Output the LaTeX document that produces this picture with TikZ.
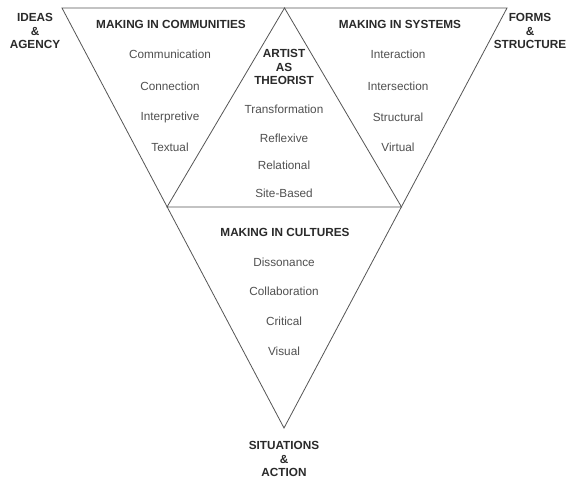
\documentclass[tikz,border=0pt]{standalone}
\usepackage{fontspec}
\setmainfont{Liberation Sans}
\definecolor{headc}{HTML}{2A2A2A}
\definecolor{itemc}{HTML}{505050}
\definecolor{linec}{HTML}{555555}
\begin{document}
\begin{tikzpicture}[x=1bp,y=-1bp,
  head/.style={font=\fontsize{11.8}{14}\selectfont\bfseries, text=headc, align=center, inner sep=0pt},
  item/.style={font=\fontsize{11.8}{14}\selectfont, text=itemc, inner sep=0pt},
  edge/.style={draw=linec, line width=0.8bp, line join=miter}]
\useasboundingbox (0,0) rectangle (569,481);
\fill[white] (0,0) rectangle (569,481);
% vertices
\coordinate (TL) at (62,8);
\coordinate (TR) at (507,8);
\coordinate (TM) at (284.5,8);
\coordinate (B) at (284,428);
\coordinate (ML) at (167,207);
\coordinate (MR) at (401.5,207);
\draw[edge] (TL) -- (TR) -- (B) -- cycle;
\draw[edge] (ML) -- (TM) -- (MR) -- cycle;
% corner labels
\node[head] (ideas) at (35,31) {IDEAS\\\&\\AGENCY};
\node[head] (forms) at (530,31) {FORMS\\\&\\STRUCTURE};
\node[head] (situ) at (284,459) {SITUATIONS\\\&\\ACTION};
% communities
\node[head] (hcom) at (171,24) {MAKING IN COMMUNITIES};
\node[item] (c1) at (170,54) {Communication};
\node[item] (c2) at (170,86) {Connection};
\node[item] (c3) at (170,117) {Interpretive};
\node[item] (c4) at (170,147) {Textual};
% systems
\node[head] (hsys) at (400,24) {MAKING IN SYSTEMS};
\node[item] (s1) at (398,54) {Interaction};
\node[item] (s2) at (398,86) {Intersection};
\node[item] (s3) at (398,117) {Structural};
\node[item] (s4) at (398,147) {Virtual};
% artist as theorist
\node[head] (hart) at (284,67) {ARTIST\\AS\\THEORIST};
\node[item] (a1) at (284,109) {Transformation};
\node[item] (a2) at (284,138) {Reflexive};
\node[item] (a3) at (284,165) {Relational};
\node[item] (a4) at (284,193) {Site-Based};
% cultures
\node[head] (hcul) at (285,232) {MAKING IN CULTURES};
\node[item] (u1) at (284,262) {Dissonance};
\node[item] (u2) at (284,291) {Collaboration};
\node[item] (u3) at (284,321) {Critical};
\node[item] (u4) at (284,351) {Visual};
\end{tikzpicture}
\end{document}
